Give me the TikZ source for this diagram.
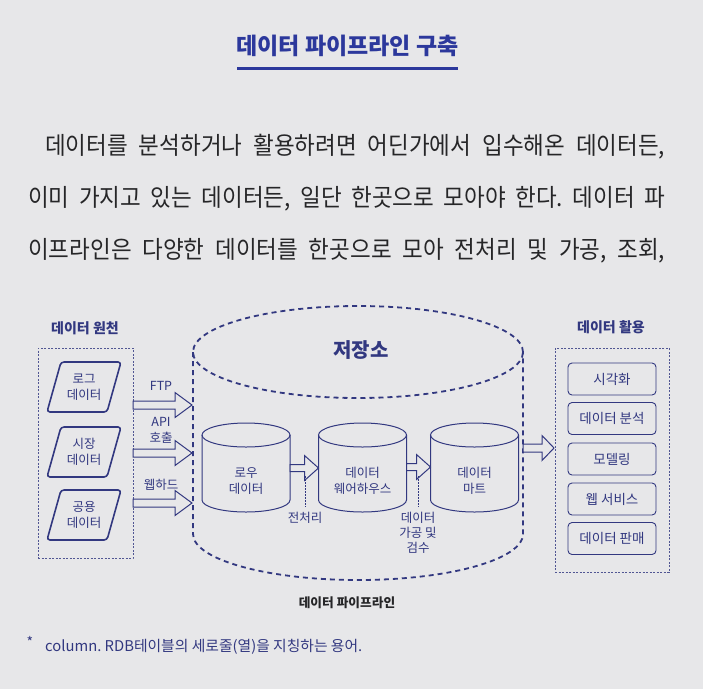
\documentclass[tikz,border=0pt]{standalone}
\usepackage{fontspec}
\setmainfont{Noto Sans CJK KR}
\usetikzlibrary{calc}
\definecolor{paper}{RGB}{231,231,233}
\definecolor{navy}{RGB}{50,56,128}
\definecolor{titleblue}{RGB}{44,56,156}
\definecolor{ink}{RGB}{38,38,40}
\frenchspacing
\begin{document}
\begin{tikzpicture}[x=1pt,y=-1pt,
  lab/.style={text=navy,font=\fontsize{12.5}{16}\selectfont,align=center,inner sep=0pt},
  headlab/.style={text=navy,font=\bfseries\fontsize{14}{16}\selectfont,inner sep=0pt},
  para/.style={text=ink,font=\fontsize{22.5}{23}\selectfont,inner sep=0pt,anchor=base west},
  frame/.style={draw=navy!85,line width=0.6pt,dash pattern=on 2pt off 1.5pt,inner sep=0pt},
  srcshape/.style={draw=navy,line width=1.6pt,rounded corners=3pt},
  outbox/.style={draw=navy,line width=0.9pt,rounded corners=4pt,minimum width=88pt,minimum height=32pt,text=navy,font=\fontsize{13.5}{15}\selectfont,inner sep=0pt},
  cyl/.style={draw=navy,line width=1pt},
  store/.style={draw=navy,line width=1.8pt,dash pattern=on 5pt off 4pt},
  blockarrow/.style n args={3}{draw=navy,line width=1pt,fill=paper,
    to path={let \p1=(\tikztostart),\p2=(\tikztotarget) in
      (\x1,\y1+#1) -- (\x2-#3,\y1+#1) -- (\x2-#3,\y1+#2) -- (\x2,\y1) -- (\x2-#3,\y1-#2) -- (\x2-#3,\y1-#1) -- (\x1,\y1-#1) -- cycle}},
  tick/.style={draw=navy,line width=0.7pt,dash pattern=on 1.5pt off 1.5pt}
]
\fill[paper] (0,0) rectangle (703,689);
\useasboundingbox (0,0) rectangle (703,689);

% title
\node[text=titleblue,font=\bfseries\fontsize{23}{26}\selectfont,inner sep=0pt] (title) at (347.5,46) {데이터 파이프라인 구축};
\draw[titleblue,line width=3pt] (237,68) -- (458,68);

% paragraph
\node[para] (l1) at (45,154) {\scalebox{1}[1.08]{\makebox[620pt][s]{데이터를 분석하거나 활용하려면 어딘가에서 입수해온 데이터든,}}};
\node[para] (l2) at (28,206) {\scalebox{1}[1.08]{\makebox[637pt][s]{이미 가지고 있는 데이터든, 일단 한곳으로 모아야 한다. 데이터 파}}};
\node[para] (l3) at (28,258) {\scalebox{1}[1.08]{\makebox[637pt][s]{이프라인은 다양한 데이터를 한곳으로 모아 전처리 및 가공, 조회,}}};

% sources
\node[headlab] (srchead) at (85,328) {데이터 원천};
\node[frame,minimum width=95pt,minimum height=210pt] (srcbox) at (85.5,453) {};
\foreach \y/\t/\n in {362/{로그\\데이터}/p1, 427/{시장\\데이터}/p2, 490/{공용\\데이터}/p3}{
  \draw[srcshape] (61,\y) -- (121,\y) -- (107,\y+50) -- (47,\y+50) -- cycle;
  \node[lab] (\n) at (84,\y+25) {\t};
}

% storage cylinder
\draw[store] (358,352) ellipse [x radius=165pt, y radius=46pt];
\draw[store] (193,352) -- (193,534) arc[start angle=180,end angle=360,x radius=165pt,y radius=46pt] -- (523,352);
\node[text=navy,font=\bfseries\fontsize{20}{22}\selectfont,inner sep=0pt] (store) at (361,350) {저장소};

% inbound arrows
\coordinate (s1) at (133,405); \coordinate (e1) at (192,405);
\coordinate (s2) at (133,453); \coordinate (e2) at (192,453);
\coordinate (s3) at (133,503); \coordinate (e3) at (192,503);
\draw[blockarrow={4pt}{12.5pt}{17pt}] (s1) to (e1);
\draw[blockarrow={4pt}{12.5pt}{17pt}] (s2) to (e2);
\draw[blockarrow={4pt}{12.5pt}{17pt}] (s3) to (e3);
\node[lab] (ftp) at (161,386) {FTP};
\node[lab] (api) at (161,430) {API\\호출};
\node[lab] (web) at (161,485) {웹하드};

% inner cylinders
\foreach \c/\n/\t in {246/raw/{로우\\데이터}, 362.5/dw/{데이터\\웨어하우스}, 474.5/mart/{데이터\\마트}}{
  \draw[cyl,fill=paper] (\c-44,435) -- (\c-44,500) arc[start angle=180,end angle=360,x radius=44pt,y radius=12pt] -- (\c+44,435);
  \draw[cyl] (\c,435) ellipse [x radius=44pt, y radius=12pt];
  \node[lab] (\n) at (\c,481) {\t};
}
\coordinate (r1) at (290,468); \coordinate (w1) at (318.5,468);
\coordinate (r2) at (406.5,467); \coordinate (w2) at (430.5,467);
\draw[blockarrow={3.5pt}{12.5pt}{14pt}] (r1) to (w1);
\draw[blockarrow={3.5pt}{12.5pt}{14pt}] (r2) to (w2);
\node[lab] (pre) at (305,518) {전처리};
\node[lab,font=\fontsize{12.5}{15}\selectfont] (proc) at (418,533) {데이터\\가공 및\\검수};
\coordinate (t1) at (305,476);
\coordinate (t2) at (418,476);
\draw[tick,shorten >=6pt] (t1) -- (pre.north);
\draw[tick,shorten >=5pt] (t2) -- (proc.north);

% outbound
\coordinate (o1) at (523,448); \coordinate (o2) at (554,448);
\draw[blockarrow={4pt}{12.5pt}{12pt}] (o1) to (o2);
\node[headlab] (usehead) at (611,327) {데이터 활용};
\node[frame,minimum width=114pt,minimum height=224pt] (usefr) at (612,460) {};
\foreach \y/\t/\n in {379/시각화/u1, 418.5/데이터 분석/u2, 459/모델링/u3, 499/웹 서비스/u4, 538.5/데이터 판매/u5}{
  \node[outbox] (\n) at (612,\y) {\t};
}

% caption and footnote
\node[text=ink,font=\bfseries\fontsize{12.7}{14}\selectfont,inner sep=0pt] (cap) at (347,603) {데이터 파이프라인};
\node[text=navy,font=\fontsize{14}{16}\selectfont,inner sep=0pt] (star) at (30,642) {*};
\node[text=navy,font=\fontsize{14.8}{17}\selectfont,inner sep=0pt,anchor=west] (fn) at (45,647) {column. RDB테이블의 세로줄(열)을 지칭하는 용어.};
\end{tikzpicture}
\end{document}
